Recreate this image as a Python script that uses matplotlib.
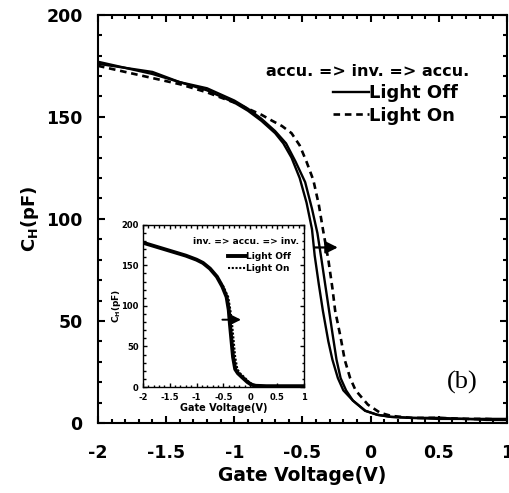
import matplotlib
matplotlib.use("Agg")
import matplotlib.pyplot as plt
from matplotlib.ticker import MultipleLocator

plt.rcParams['font.family'] = ['DejaVu Sans']
plt.rcParams['font.weight'] = 'bold'
plt.rcParams['mathtext.fontset'] = 'dejavusans'
plt.rcParams['mathtext.default'] = 'bf'

# main panel: accu. => inv. => accu.
v_off1 = [-2.0, -1.8, -1.6, -1.4, -1.2, -1.0, -0.9, -0.8, -0.7, -0.64, -0.58, -0.52, -0.47,
          -0.43, -0.41, -0.38, -0.35, -0.31, -0.28, -0.24, -0.2, -0.13, -0.04, 0.05, 0.15,
          0.3, 0.5, 0.7, 0.85, 1.0]
c_off1 = [177, 174, 171, 167, 163, 157, 153, 148, 142, 137, 130, 120, 108,
          95, 82, 68, 55, 40, 31, 22, 16, 11, 6, 4, 3,
          2.5, 2.5, 2, 2, 2]
v_off2 = [-2.0, -1.8, -1.6, -1.4, -1.2, -1.0, -0.9, -0.8, -0.7, -0.62, -0.55, -0.48, -0.43,
          -0.39, -0.36, -0.32, -0.28, -0.25, -0.22, -0.18, -0.13, -0.04, 0.05, 0.15,
          0.3, 0.5, 0.7, 0.85, 1.0]
c_off2 = [176, 174, 172, 167, 164, 158, 154, 149, 143, 137, 128, 118, 105,
          93, 80, 62, 44, 31, 22, 16, 11, 6, 4, 3,
          2.5, 2, 2, 1.5, 1.5]
v_on = [-2.0, -1.8, -1.6, -1.4, -1.2, -1.0, -0.9, -0.8, -0.72, -0.65, -0.58, -0.52, -0.47,
        -0.42, -0.38, -0.35, -0.31, -0.28, -0.26, -0.22, -0.19, -0.15, -0.11, -0.02, 0.07,
        0.15, 0.3, 0.5, 0.7, 0.85, 1.0]
c_on = [175, 172, 169, 166, 162, 157, 154, 151, 148, 145.5, 142, 136, 128,
        119, 107, 95, 80, 66, 55, 42, 31, 22, 16, 9, 5,
        3.5, 2.5, 2.5, 2, 2, 1.5]

# inset: inv. => accu. => inv.
v_in_off = [-2.0, -1.8, -1.5, -1.2, -1.0, -0.88, -0.75, -0.62, -0.52, -0.44, -0.4, -0.38,
            -0.35, -0.32, -0.28, -0.23, -0.15, -0.05, 0.02, 0.1, 0.3, 0.6, 1.0]
c_in_off = [178, 174, 168, 162, 157, 153, 146, 136, 124, 111, 95, 79,
            58, 37, 22, 17, 12, 6, 3, 1.5, 1, 1, 1]
v_in_on = [-2.0, -1.8, -1.5, -1.2, -1.0, -0.88, -0.75, -0.62, -0.5, -0.41, -0.37, -0.34,
           -0.31, -0.28, -0.24, -0.19, -0.11, -0.02, 0.05, 0.12, 0.3, 0.6, 1.0]
c_in_on = [178, 174, 168, 162, 157, 153, 146, 136, 124, 111, 95, 79,
           58, 37, 22, 17, 12, 6, 3, 1.5, 1, 1, 1]

xticks = [-2, -1.5, -1, -0.5, 0, 0.5, 1]
xticklabels = ['-2', '-1.5', '-1', '-0.5', '0', '0.5', '1']
yticks = [0, 50, 100, 150, 200]


def style_axes(ax, size, lw, maj, mnr, xpad, ypad):
    ax.set_xlim(-2, 1)
    ax.set_ylim(0, 200)
    ax.set_xticks(xticks)
    ax.set_xticklabels(xticklabels)
    ax.set_yticks(yticks)
    ax.xaxis.set_minor_locator(MultipleLocator(0.1))
    ax.yaxis.set_minor_locator(MultipleLocator(10))
    ax.tick_params(which='both', direction='in', top=True, right=True,
                   labelsize=size, width=lw)
    ax.tick_params(axis='x', which='both', pad=xpad)
    ax.tick_params(axis='y', which='both', pad=ypad)
    ax.tick_params(which='major', length=maj)
    ax.tick_params(which='minor', length=mnr)
    for s in ax.spines.values():
        s.set_linewidth(lw)
    for t in ax.get_xticklabels() + ax.get_yticklabels():
        t.set_fontweight('bold')


fig = plt.figure(figsize=(5.1, 4.93), dpi=100)
ax = fig.add_axes([0.192, 0.142, 0.802, 0.828])

ax.plot(v_off1, c_off1, color='black', lw=1.7, label='Light Off')
ax.plot(v_off2, c_off2, color='black', lw=1.7)
ax.plot(v_on, c_on, color='black', lw=1.9, ls=(0, (2.5, 1.8)), label='Light On')

style_axes(ax, 12.5, 1.5, 5, 3, 15, 11)
ax.set_xlabel('Gate Voltage(V)', fontsize=13.5, fontweight='bold', labelpad=3)
ax.set_ylabel(r'C$_{H}$(pF)', fontsize=13, fontweight='bold', labelpad=4)

ax.text(0.66, 0.86, 'accu. => inv. => accu.', transform=ax.transAxes,
        ha='center', va='center', fontsize=11.5, fontweight='bold')
ax.legend(loc='upper left', bbox_to_anchor=(0.575, 0.83), frameon=False,
          handlelength=2.0, handletextpad=0.0, borderpad=0,
          borderaxespad=0, labelspacing=0.25, prop={'weight': 'bold', 'size': 13})
ax.text(0.89, 0.1, '(b)', transform=ax.transAxes, ha='center', va='center',
        fontsize=19, fontweight='normal', family=['Liberation Serif', 'DejaVu Serif'])
ax.annotate('', xy=(-0.22, 86), xytext=(-0.43, 86),
            arrowprops=dict(arrowstyle='-|>', color='black', lw=1.6, mutation_scale=18))

# inset
axi = fig.add_axes([0.280, 0.215, 0.316, 0.329])
axi.plot(v_in_off, c_in_off, color='black', lw=2.8, label='Light Off')
axi.plot(v_in_on, c_in_on, color='black', lw=1.5, ls=(0, (1, 0.8)), label='Light On')
style_axes(axi, 6, 1.0, 3, 1.8, 4.5, 3)
axi.set_xlabel('Gate Voltage(V)', fontsize=7, fontweight='bold', labelpad=0.5)
axi.set_ylabel(r'C$_{H}$(pF)', fontsize=6.5, fontweight='bold', labelpad=-1)
axi.text(0.97, 0.9, 'inv. => accu. => inv.', transform=axi.transAxes,
         ha='right', va='center', fontsize=6.5, fontweight='bold')
axi.legend(loc='upper left', bbox_to_anchor=(0.53, 0.83), frameon=False,
           handlelength=2.0, handletextpad=0.0, borderpad=0, borderaxespad=0,
           labelspacing=0.3, prop={'weight': 'bold', 'size': 6.5})
axi.annotate('', xy=(-0.12, 83), xytext=(-0.57, 83),
             arrowprops=dict(arrowstyle='-|>', color='black', lw=1.4, mutation_scale=14))

fig.savefig('out.png', dpi=100)
